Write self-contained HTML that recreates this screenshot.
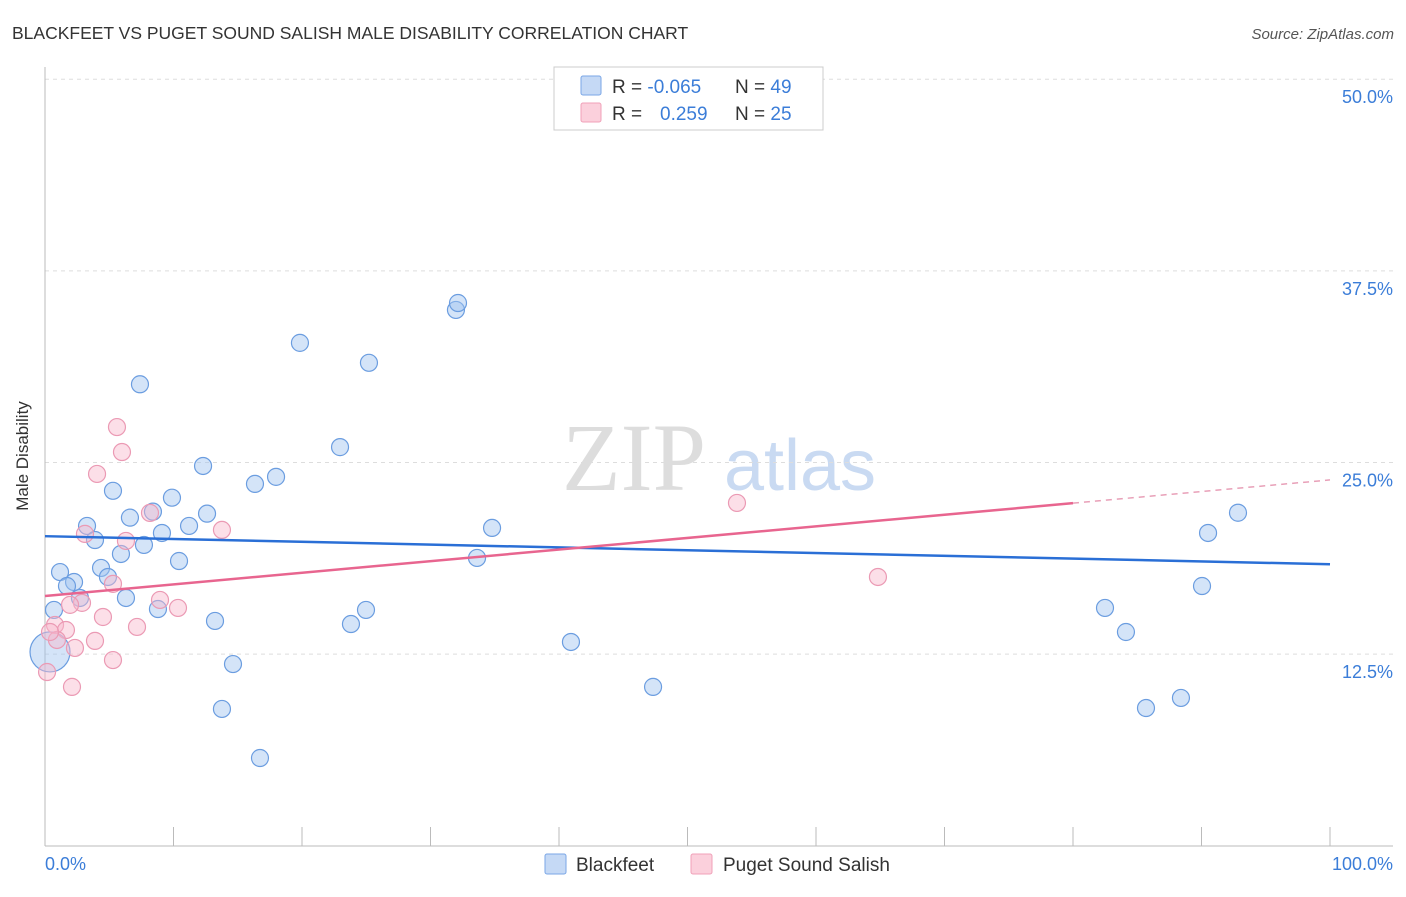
<!DOCTYPE html>
<html><head><meta charset="utf-8"><style>
body{margin:0;background:#fff;font-family:"Liberation Sans",sans-serif}
</style></head><body>
<svg id="c" width="1406" height="892" xmlns="http://www.w3.org/2000/svg">
<text x="12" y="39" font-size="17.5" fill="#333">BLACKFEET VS PUGET SOUND SALISH MALE DISABILITY CORRELATION CHART</text>
<text x="1394" y="39" font-size="15" fill="#555" font-style="italic" text-anchor="end">Source: ZipAtlas.com</text>
<text x="28" y="456" font-size="17" fill="#333" text-anchor="middle" transform="rotate(-90 28 456)">Male Disability</text>
<g><text x="634" y="490" font-size="96" fill="#ddd" font-family="Liberation Serif,serif" text-anchor="middle">ZIP</text><text x="800" y="490" font-size="72" fill="#c9daf2" text-anchor="middle">atlas</text></g>
<g id="grid"></g><g id="marks"></g>
<g>
<rect x="554" y="67" width="269" height="63" fill="#fff" stroke="#ccc"/>
<rect x="581" y="76" width="20" height="19" fill="#c5d9f5" stroke="#7aa6e6" rx="2"/>
<rect x="581" y="103" width="20" height="19" fill="#fbd0dc" stroke="#f0a0b8" rx="2"/>
<text x="612" y="93" font-size="19" fill="#333">R = <tspan fill="#3b7dd8">-0.065</tspan></text>
<text x="735" y="93" font-size="19" fill="#333">N = <tspan fill="#3b7dd8">49</tspan></text>
<text x="612" y="120" font-size="19" fill="#333">R = <tspan fill="#3b7dd8" x="660">0.259</tspan></text>
<text x="735" y="120" font-size="19" fill="#333">N = <tspan fill="#3b7dd8">25</tspan></text>
</g>
<g>
<rect x="545" y="854" width="21" height="20" fill="#c5d9f5" stroke="#7aa6e6" rx="2"/>
<text x="576" y="871" font-size="19" fill="#333">Blackfeet</text>
<rect x="691" y="854" width="21" height="20" fill="#fbd0dc" stroke="#f0a0b8" rx="2"/>
<text x="723" y="871" font-size="19" fill="#333">Puget Sound Salish</text>
</g>
<text x="45" y="870" font-size="18" fill="#3b7dd8">0.0%</text>
<text x="1393" y="870" font-size="18" fill="#3b7dd8" text-anchor="end">100.0%</text>
</svg>
<script>
const yTicks=[12.5,25,37.5,50];
const yTickLabels=["12.5%","25.0%","37.5%","50.0%"];
const xTicks=[0,10,20,30,40,50,60,70,80,90,100];
const blueX=[7.39,19.84,25.21,31.98,32.14,22.96,12.30,17.98,16.34,5.29,9.88,8.40,12.61,6.61,11.21,3.27,9.10,3.89,7.70,5.91,10.43,1.17,4.36,4.90,2.26,1.71,2.72,6.30,0.70,8.79,24.98,13.23,23.81,14.63,13.77,16.73,34.79,33.62,40.93,47.32,92.84,90.51,90.04,82.49,84.12,85.68,88.40,0.39];
const blueY=[30.1,32.8,31.5,34.95,35.4,26.0,24.77,24.06,23.6,23.15,22.7,21.79,21.66,21.4,20.86,20.86,20.40,19.94,19.62,19.03,18.57,17.85,18.12,17.53,17.20,16.94,16.16,16.16,15.38,15.44,15.38,14.66,14.46,11.85,8.92,5.72,20.73,18.77,13.29,10.36,21.72,20.40,16.94,15.51,13.94,8.98,9.64,12.64];
const pinkX=[5.60,5.99,4.05,3.11,8.17,13.77,6.30,5.29,2.88,1.95,8.95,10.35,4.51,7.16,3.89,0.78,1.63,2.33,5.29,2.10,0.16,53.85,64.82,0.93,0.39];
const pinkY=[27.31,25.68,24.25,20.34,21.71,20.60,19.88,17.08,15.84,15.71,16.03,15.51,14.92,14.27,13.36,14.40,14.07,12.90,12.11,10.36,11.33,22.36,17.53,13.42,13.94];
const blueTrend=[20.19,18.36];
const pinkTrend=[16.29,23.86];
const pinkSolidEnd=80;
const X=v=>45+v*12.85, Y=v=>845.7-v*15.33;
const NS="http://www.w3.org/2000/svg";
const grid=document.getElementById('grid'), marks=document.getElementById('marks');
function mk(tag,at,parent){const e=document.createElementNS(NS,tag);for(const k in at)e.setAttribute(k,at[k]);parent.appendChild(e);return e;}
yTicks.forEach((t,i)=>{
 const g=mk('line',{x1:45,x2:1393,y1:Y(t),y2:Y(t),stroke:'#ddd','stroke-dasharray':'4,4'},grid);
 
 
 const l=mk('text',{x:1393,y:Y(t)+24,'font-size':18,fill:'#3b7dd8','text-anchor':'end'},grid);
 l.textContent=yTickLabels[i];
 
 
});
const ax=mk('line',{x1:45,x2:45,y1:67,y2:846,stroke:'#bbb'},grid);


const bx=mk('line',{x1:45,x2:1393,y1:846,y2:846,stroke:'#bbb'},grid);


xTicks.forEach(t=>{
 const k=mk('line',{x1:X(t),x2:X(t),y1:827,y2:846,stroke:'#bbb'},grid);
 
 
});
blueX.forEach((x,i)=>{
 const big=i===blueX.length-1;
 const c=mk('circle',{cx:X(x),cy:Y(blueY[i]),r:big?20:8.5,fill:'rgba(160,195,240,0.45)',stroke:'#6b9de0','stroke-width':1.2},marks);
 
 
});
pinkX.forEach((x,i)=>{
 const c=mk('circle',{cx:X(x),cy:Y(pinkY[i]),r:8.5,fill:'rgba(248,185,205,0.45)',stroke:'#eb9ab4','stroke-width':1.2},marks);
 
 
});
const bl=mk('line',{x1:X(0),y1:Y(blueTrend[0]),x2:X(100),y2:Y(blueTrend[1]),stroke:'#2a6fd6','stroke-width':2.5},marks);


const pm=pinkTrend[0]+(pinkTrend[1]-pinkTrend[0])*pinkSolidEnd/100;
const pl=mk('line',{x1:X(0),y1:Y(pinkTrend[0]),x2:X(pinkSolidEnd),y2:Y(pm),stroke:'#e8658f','stroke-width':2.5},marks);


const pd=mk('line',{x1:X(pinkSolidEnd),y1:Y(pm),x2:X(100),y2:Y(pinkTrend[1]),stroke:'#e8a0b8','stroke-width':1.5,'stroke-dasharray':'6,5'},marks);


</script>
</body></html>
